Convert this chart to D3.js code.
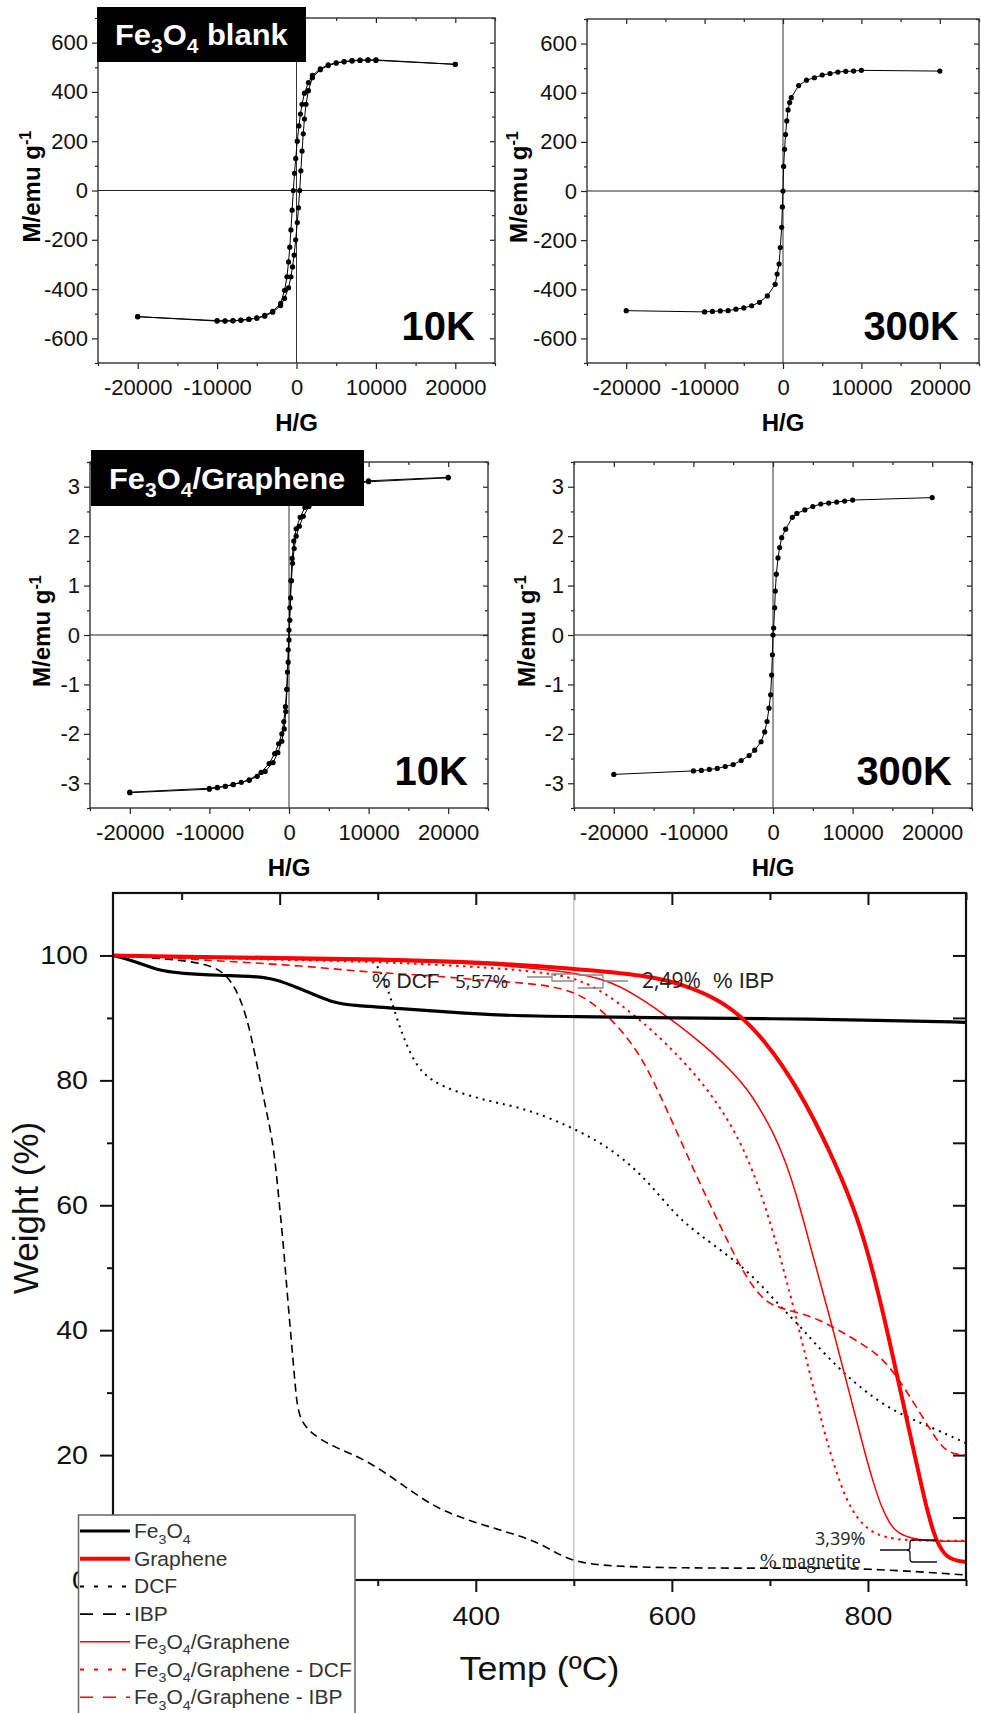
<!DOCTYPE html>
<html>
<head>
<meta charset="utf-8">
<script src="https://cdn.jsdelivr.net/npm/d3@7"></script>
<style>
  body { margin: 0; background: #fff; }
</style>
</head>
<body>
<svg id="fig" width="981" height="1713"></svg>
<script>
// ---- magnetisation loops (H in G, M in emu/g) ----
const hMajor = [-20000, -10000, 0, 10000, 20000]
const hMinor = [-25000, -15000, -5000, 5000, 15000, 25000]
const mTicksFe = [-600, -400, -200, 0, 200, 400, 600]
const mMinorFe = [-700, -500, -300, -100, 100, 300, 500, 700]
const mTicksFG = [-3, -2, -1, 0, 1, 2, 3]
const mMinorFG = [-3.5, -2.5, -1.5, -0.5, 0.5, 1.5, 2.5, 3.5]

const fe10Desc = [[20000,512],[10000,530],[9000,530],[8000,529],[7000,527],[6000,523],[5000,518],[4000,510],[3000,494],[2000,467],[1500,438],[1000,395],[700,350],[500,310],[300,262],[100,200],[-100,130],[-250,70],[-400,0],[-550,-80],[-700,-160],[-850,-230],[-1000,-290],[-1200,-350],[-1500,-405],[-2000,-458],[-3000,-490],[-4000,-507],[-5000,-517],[-6000,-522],[-7000,-526],[-8000,-528],[-9000,-529],[-10000,-528],[-20000,-512]]
const fe10Asc = [[-20000,-512],[-10000,-530],[-9000,-530],[-8000,-529],[-7000,-527],[-6000,-523],[-5000,-518],[-4000,-510],[-3000,-494],[-2000,-467],[-1500,-438],[-1000,-395],[-700,-350],[-500,-310],[-300,-262],[-100,-200],[100,-130],[250,-70],[400,0],[550,80],[700,160],[850,230],[1000,290],[1200,350],[1500,405],[2000,458],[3000,490],[4000,507],[5000,517],[6000,522],[7000,526],[8000,528],[9000,529],[10000,528],[20000,512]]

const fe300 = [[-20000,-487],[-10000,-492],[-9000,-490],[-8000,-488],[-7000,-487],[-6000,-481],[-5000,-476],[-4000,-467],[-3000,-453],[-2000,-427],[-1000,-380],[-750,-338],[-500,-297],[-340,-230],[-170,-148],[-80,-65],[0,0],[80,100],[200,170],[330,230],[480,285],[650,330],[850,360],[1050,380],[2000,429],[3000,451],[4000,461],[5000,472],[6000,478],[7000,484],[8000,487],[9000,488],[10000,491],[20000,488]]

const fg10Desc = [[20000,3.19],[10000,3.12],[9000,3.09],[8000,3.06],[7000,3.02],[6000,2.98],[5000,2.94],[4000,2.86],[3000,2.76],[2000,2.58],[1400,2.38],[900,2.15],[600,1.90],[400,1.55],[250,1.10],[100,0.55],[0,0.10],[-100,-0.30],[-200,-0.75],[-300,-1.10],[-450,-1.45],[-650,-1.75],[-900,-2.00],[-1300,-2.20],[-1800,-2.40],[-2500,-2.60],[-3500,-2.78],[-5000,-2.93],[-7000,-3.03],[-8000,-3.06],[-9000,-3.08],[-10000,-3.10],[-20000,-3.18]]
const fg10Asc = [[-20000,-3.19],[-10000,-3.12],[-9000,-3.09],[-8000,-3.06],[-7000,-3.02],[-6000,-2.98],[-5000,-2.94],[-4000,-2.86],[-3000,-2.76],[-2000,-2.58],[-1400,-2.38],[-900,-2.15],[-600,-1.90],[-400,-1.55],[-250,-1.10],[-100,-0.55],[0,-0.10],[100,0.30],[200,0.75],[300,1.10],[450,1.45],[650,1.75],[900,2.00],[1300,2.20],[1800,2.40],[2500,2.60],[3500,2.78],[5000,2.93],[7000,3.03],[8000,3.06],[9000,3.08],[10000,3.10],[20000,3.18]]

const fg300 = [[-20000,-2.82],[-10000,-2.75],[-9000,-2.74],[-8000,-2.72],[-7000,-2.70],[-6000,-2.66],[-5000,-2.62],[-4000,-2.54],[-3000,-2.44],[-2300,-2.33],[-1500,-2.16],[-1050,-1.96],[-750,-1.75],[-500,-1.48],[-300,-1.21],[-170,-0.81],[-80,-0.40],[0,0],[80,0.14],[210,0.55],[290,0.89],[420,1.23],[630,1.56],[840,1.77],[1090,1.97],[1590,2.14],[2430,2.38],[3000,2.46],[4000,2.53],[5000,2.60],[6000,2.65],[7000,2.67],[8000,2.69],[9000,2.71],[10000,2.73],[20000,2.78]]

// ---- TGA (temperature in C, weight in %) ----
const tempMajor = [200, 400, 600, 800]
const tempMinor = [100, 300, 500, 700, 900]
const weightMajor = [0, 20, 40, 60, 80, 100]
const weightMinor = [10, 30, 50, 70, 90]
const weightRight = [10, 20, 30, 40, 50, 60, 70, 80, 90, 100]

const feT = [30, 50, 75, 100, 140, 170, 195, 220, 242, 255, 272, 323, 374, 425, 500, 600, 700, 813, 900]
const feW = [100, 99.2, 97.6, 97.1, 96.8, 96.7, 96.3, 94.7, 93.3, 92.5, 92.0, 91.5, 90.9, 90.4, 90.2, 90.0, 89.9, 89.6, 89.3]

const grT = [30, 100, 200, 300, 405, 501, 575, 610, 643, 667, 694, 728, 762, 786, 800, 816, 830, 847, 861, 871, 881, 890, 900]
const grW = [100, 99.8, 99.6, 99.4, 98.9, 97.9, 96.8, 95.4, 93.3, 90.8, 86.6, 79.0, 68.5, 59.5, 52.5, 42.5, 32.5, 20.5, 10.5, 5.6, 3.6, 3.1, 2.9]

const dcfT = [30, 100, 200, 289, 299, 310, 320, 330, 344, 367, 398, 425, 456, 501, 541, 575, 602, 626, 660, 687, 711, 731, 745, 772, 799, 830, 864, 900]
const dcfW = [100, 99.8, 99.6, 99.3, 98.9, 94.9, 89.6, 85.3, 81.1, 78.9, 77.3, 76.3, 75.2, 72.3, 68.8, 64.0, 58.7, 55.5, 51.7, 48.0, 43.7, 40.6, 38.0, 33.6, 29.9, 26.7, 24.5, 21.9]

const ibpT = [30, 85, 126, 146, 160, 170, 180, 187, 194, 199, 204, 208, 213, 216, 219, 231, 255, 289, 323, 357, 391, 425, 460, 480, 501, 534, 609, 711, 799, 900]
const ibpW = [100, 99.5, 98.7, 97.1, 93.3, 88.0, 80.0, 74.7, 69.3, 61.3, 53.3, 45.3, 36.3, 30.9, 26.1, 23.5, 21.3, 19.2, 15.5, 11.7, 9.6, 8.0, 6.3, 4.5, 2.9, 2.2, 1.9, 1.9, 1.9, 0.8]

const fgT = [30, 100, 200, 300, 400, 500, 534, 560, 592, 620, 643, 660, 677, 690, 704, 716, 728, 745, 762, 779, 796, 806, 813, 822, 830, 847, 870, 900]
const fgW = [100, 99.6, 99.4, 99.2, 98.8, 97.4, 96.0, 94.0, 90.6, 87.3, 84.2, 81.6, 78.6, 75.4, 71.5, 67.0, 61.3, 51.2, 41.6, 31.2, 20.8, 15.3, 12.0, 9.0, 7.5, 6.5, 6.2, 6.2]

const fgDcfT = [30, 100, 200, 300, 400, 450, 500, 530, 558, 585, 609, 630, 650, 667, 682, 696, 710, 722, 733, 744, 755, 766, 778, 790, 806, 830, 860, 900]
const fgDcfW = [100, 99.7, 99.3, 99.0, 98.2, 97.6, 96.6, 94.2, 90.9, 87.3, 83.5, 79.8, 75.5, 71.0, 65.8, 59.5, 52.0, 45.0, 38.0, 31.0, 24.0, 18.0, 12.8, 9.6, 7.3, 6.4, 6.3, 6.3]

const fgIbpT = [30, 100, 150, 221, 289, 357, 405, 450, 480, 507, 530, 550, 570, 590, 610, 630, 650, 667, 682, 696, 711, 731, 750, 770, 790, 813, 830, 847, 862, 874, 885, 900]
const fgIbpW = [100, 99.5, 99.0, 98.4, 97.3, 96.8, 96.0, 95.6, 95.0, 93.8, 91.0, 87.8, 83.5, 77.0, 70.0, 63.0, 56.5, 51.0, 47.0, 44.5, 43.5, 42.7, 41.7, 40.0, 38.2, 35.8, 32.5, 28.3, 24.5, 21.5, 20.2, 20.0]

const legendNames = ['Fe_3O_4', 'Graphene', 'DCF', 'IBP', 'Fe_3O_4/Graphene', 'Fe_3O_4/Graphene - DCF', 'Fe_3O_4/Graphene - IBP']

const FONT = '"Liberation Sans", Arial, sans-serif'
const svg = d3.select('#fig')

// text with _n subscripts and ^n superscripts
const rich = (sel, s, fs) => {
    const parts = s.split(/(_\d|\^-?\d)/)
    let shift = 0
    parts.forEach(p => {
        if (!p) return
        if (p[0] === '_' || p[0] === '^') {
            const dy = p[0] === '_' ? fs * 0.28 : -fs * 0.38
            sel.append('tspan').attr('font-size', fs * 0.68).attr('dy', dy - shift).text(p.slice(1))
            shift = dy
        } else {
            const t = sel.append('tspan').text(p)
            if (shift) { t.attr('dy', -shift); shift = 0 }
        }
    })
}

const stretch = (sel, k) => sel.each(function () {
    const w = this.getComputedTextLength()
    d3.select(this).attr('textLength', w * k).attr('lengthAdjust', 'spacingAndGlyphs')
})

const renderLoop = p => {
    const [x0, x1, y0, y1] = p.frame
    const xScale = d3.scaleLinear().domain([-25000, 25000]).range([x0, x1])
    const yScale = d3.scaleLinear().domain([-p.yMax, p.yMax]).range([y1, y0])
    const g = svg.append('g')

    const addAxis = (axis, tf) => {
        const a = g.append('g').attr('transform', tf).call(axis)
        a.select('.domain').remove()
        a.selectAll('line').attr('stroke', '#222').attr('stroke-width', 1.2)
        a.attr('font-family', FONT).attr('font-size', 22)
        a.selectAll('text').attr('fill', '#111')
        return a
    }
    const fmt = d => String(d)
    addAxis(d3.axisBottom(xScale).tickValues(hMajor).tickSize(6).tickPadding(10).tickFormat(fmt), `translate(0,${y1})`)
    addAxis(d3.axisBottom(xScale).tickValues(hMinor).tickSize(3).tickFormat(''), `translate(0,${y1})`)
    addAxis(d3.axisTop(xScale).tickValues(hMajor).tickSize(-5).tickFormat(''), `translate(0,${y0})`)
    addAxis(d3.axisTop(xScale).tickValues(hMinor).tickSize(-3).tickFormat(''), `translate(0,${y0})`)
    addAxis(d3.axisLeft(yScale).tickValues(p.yMajor).tickSize(6).tickPadding(4).tickFormat(fmt), `translate(${x0},0)`)
    addAxis(d3.axisLeft(yScale).tickValues(p.yMinor).tickSize(3).tickFormat(''), `translate(${x0},0)`)
    addAxis(d3.axisRight(yScale).tickValues(p.yMajor).tickSize(-5).tickFormat(''), `translate(${x1},0)`)
    addAxis(d3.axisRight(yScale).tickValues(p.yMinor).tickSize(-3).tickFormat(''), `translate(${x1},0)`)

    g.append('line')
        .attr('x1', x0).attr('x2', x1).attr('y1', yScale(0)).attr('y2', yScale(0))
        .attr('stroke', '#222').attr('stroke-width', 1)
    g.append('line')
        .attr('x1', xScale(0)).attr('x2', xScale(0)).attr('y1', y0).attr('y2', y1)
        .attr('stroke', '#333').attr('stroke-width', 1)

    g.append('rect')
        .attr('x', x0).attr('y', y0).attr('width', x1 - x0).attr('height', y1 - y0)
        .attr('fill', 'none').attr('stroke', '#333').attr('stroke-width', 1.4)

    const lineGenerator = d3.line()
        .x(d => xScale(d[0]))
        .y(d => yScale(d[1]))

    p.series.forEach(s => {
        g.append('path')
            .attr('d', lineGenerator(s))
            .attr('fill', 'none').attr('stroke', '#000').attr('stroke-width', 1)
        g.selectAll(null)
            .data(s)
            .enter()
            .append('circle')
            .attr('cx', d => xScale(d[0]))
            .attr('cy', d => yScale(d[1]))
            .attr('r', 2.6)
            .attr('fill', '#000')
    })

    g.append('text')
        .attr('x', x1 - 20).attr('y', y1 - 23)
        .attr('text-anchor', 'end')
        .attr('font-family', FONT).attr('font-weight', 'bold').attr('font-size', 40)
        .text(p.temp)

    const yt = g.append('text')
        .attr('transform', `translate(${p.titleX},${(y0 + y1) / 2 - 4}) rotate(-90)`)
        .attr('text-anchor', 'middle')
        .attr('font-family', FONT).attr('font-weight', 'bold').attr('font-size', 24)
    rich(yt, 'M/emu g^-1', 24)

    g.append('text')
        .attr('x', (x0 + x1) / 2).attr('y', y1 + 68)
        .attr('text-anchor', 'middle')
        .attr('font-family', FONT).attr('font-weight', 'bold').attr('font-size', 24)
        .text('H/G')

    if (p.label) {
        const [bx0, bx1, by0, by1] = p.labelBox
        g.append('rect')
            .attr('x', bx0).attr('y', by0).attr('width', bx1 - bx0).attr('height', by1 - by0)
            .attr('fill', '#000')
        const lt = g.append('text')
            .attr('x', bx0 + 18).attr('y', by1 - 17)
            .attr('fill', '#fff')
            .attr('font-family', FONT).attr('font-weight', 'bold').attr('font-size', 29)
        rich(lt, p.label, 29)
        stretch(lt, 1.065)
    }
}

renderLoop({ frame: [98, 495, 18, 363], yMax: 700, yMajor: mTicksFe, yMinor: mMinorFe,
    series: [fe10Desc, fe10Asc], temp: '10K', titleX: 40,
    label: 'Fe_3O_4 blank', labelBox: [97, 306, 7, 62] })
renderLoop({ frame: [587, 979, 19, 363], yMax: 700, yMajor: mTicksFe, yMinor: mMinorFe,
    series: [fe300], temp: '300K', titleX: 527 })
renderLoop({ frame: [90, 488, 462, 808], yMax: 3.5, yMajor: mTicksFG, yMinor: mMinorFG,
    series: [fg10Desc, fg10Asc], temp: '10K', titleX: 50,
    label: 'Fe_3O_4/Graphene', labelBox: [91, 364, 450, 506] })
renderLoop({ frame: [574, 972, 462, 808], yMax: 3.5, yMajor: mTicksFG, yMinor: mMinorFG,
    series: [fg300], temp: '300K', titleX: 535 })

// ---- TGA chart ----
const renderTGA = () => {
    const left = 113, right = 966, top = 893, bottom = 1580
    const xScale = d3.scaleLinear().domain([30, 900]).range([left, right])
    const yScale = d3.scaleLinear().domain([0, 110]).range([bottom, top])
    const g = svg.append('g')

    const addAxis = (axis, tf) => {
        const a = g.append('g').attr('transform', tf).call(axis)
        a.select('.domain').remove()
        a.selectAll('line').attr('stroke', '#111').attr('stroke-width', 2)
        a.attr('font-family', FONT).attr('font-size', 26)
        a.selectAll('text').attr('fill', '#111')
        return a
    }
    const fmt = d => String(d)
    const xl = addAxis(d3.axisBottom(xScale).tickValues(tempMajor).tickSize(12).tickPadding(15).tickFormat(fmt), `translate(0,${bottom})`)
    addAxis(d3.axisBottom(xScale).tickValues(tempMinor).tickSize(6).tickFormat(''), `translate(0,${bottom})`)
    addAxis(d3.axisTop(xScale).tickValues(tempMajor).tickSize(-12).tickFormat(''), `translate(0,${top})`)
    addAxis(d3.axisTop(xScale).tickValues(tempMinor).tickSize(-7).tickFormat(''), `translate(0,${top})`)
    const yl = addAxis(d3.axisLeft(yScale).tickValues(weightMajor).tickSize(13).tickPadding(12).tickFormat(fmt), `translate(${left},0)`)
    addAxis(d3.axisLeft(yScale).tickValues(weightMinor).tickSize(6).tickFormat(''), `translate(${left},0)`)
    addAxis(d3.axisRight(yScale).tickValues(weightRight).tickSize(-13).tickFormat(''), `translate(${right},0)`)
    stretch(xl.selectAll('text'), 1.1)
    stretch(yl.selectAll('text'), 1.1)

    g.append('line')
        .attr('x1', xScale(500)).attr('x2', xScale(500)).attr('y1', top).attr('y2', bottom)
        .attr('stroke', '#c8c8c8').attr('stroke-width', 1.5)

    const series = [
        { t: dcfT, w: dcfW, color: '#000', width: 2, dash: '2,5' },
        { t: ibpT, w: ibpW, color: '#000', width: 1.6, dash: '8,5' },
        { t: fgDcfT, w: fgDcfW, color: '#ff0000', width: 2, dash: '2.5,4.5' },
        { t: fgIbpT, w: fgIbpW, color: '#ff0000', width: 1.6, dash: '8,5' },
        { t: fgT, w: fgW, color: '#ff0000', width: 1.5, dash: null },
        { t: feT, w: feW, color: '#000', width: 3.2, dash: null },
        { t: grT, w: grW, color: '#ff0000', width: 4, dash: null }
    ]
    const lineGenerator = d3.line()
        .x(d => xScale(d[0]))
        .y(d => yScale(d[1]))
        .curve(d3.curveBasis)
    series.forEach(s => {
        g.append('path')
            .attr('d', lineGenerator(d3.zip(s.t, s.w)))
            .attr('fill', 'none')
            .attr('stroke', s.color)
            .attr('stroke-width', s.width)
            .attr('stroke-dasharray', s.dash)
    })

    g.append('rect')
        .attr('x', left).attr('y', top).attr('width', right - left).attr('height', bottom - top)
        .attr('fill', 'none').attr('stroke', '#111').attr('stroke-width', 2.2)

    // annotations
    const note = (x, y, txt, size, family, color) => g.append('text')
        .attr('x', x).attr('y', y)
        .attr('font-family', family).attr('font-size', size).attr('fill', color)
        .text(txt)
    note(372, 988, '% DCF', 21, FONT, '#222')
    note(455, 988, '5,57%', 19, '"Open Sans", sans-serif', '#222')
    note(642, 988, '2,49%', 21, '"Open Sans", sans-serif', '#222')
    note(713, 988, '% IBP', 22, FONT, '#222')
    note(815, 1545, '3,39%', 18, '"Open Sans", sans-serif', '#222')
    note(760, 1568, '% magnetite', 20, '"Liberation Serif", serif', '#222')

    g.append('path')
        .attr('d', 'M527,977 H552 M574,974 H552 V981 H574 M578,975 H603 V988 H578 M603,981 H628')
        .attr('fill', 'none').attr('stroke', '#888').attr('stroke-width', 1.3)
    g.append('path')
        .attr('d', 'M937,1540 H912 Q910,1540 910,1543 V1547 Q910,1550 907,1550 H880 M907,1550 Q910,1550 910,1553 V1559 Q910,1562 913,1562 H937')
        .attr('fill', 'none').attr('stroke', '#111').attr('stroke-width', 1.3)

    const xt = g.append('text')
        .attr('x', (left + right) / 2).attr('y', 1680)
        .attr('text-anchor', 'middle')
        .attr('font-family', FONT).attr('font-size', 34).attr('fill', '#111')
        .text('Temp (ºC)')
    stretch(xt, 1.05)

    g.append('text')
        .attr('transform', 'translate(38,1208) rotate(-90)')
        .attr('text-anchor', 'middle')
        .attr('font-family', FONT).attr('font-size', 35).attr('fill', '#111')
        .text('Weight (%)')

    // legend
    const lg = g.append('g')
    lg.append('rect')
        .attr('x', 78.5).attr('y', 1515).attr('width', 276.5).attr('height', 220)
        .attr('fill', '#fff').attr('stroke', '#666').attr('stroke-width', 1.5)
    const legendStyle = [series[5], series[6], series[0], series[1], series[4], series[2], series[3]]
    legendNames.forEach((name, i) => {
        const s = legendStyle[i]
        const ly = 1531 + i * 27.7
        lg.append('line')
            .attr('x1', 80).attr('x2', 130).attr('y1', ly).attr('y2', ly)
            .attr('stroke', s.color).attr('stroke-width', s.width)
            .attr('stroke-dasharray', s.dash ? (s.dash === '8,5' ? '13,10' : '4,10') : null)
        const t = lg.append('text')
            .attr('x', 134).attr('y', ly + 7)
            .attr('font-family', FONT).attr('font-size', 20).attr('fill', '#333')
        rich(t, name, 20)
        stretch(t, 1.05)
    })
}

renderTGA()
</script>
</body>
</html>
